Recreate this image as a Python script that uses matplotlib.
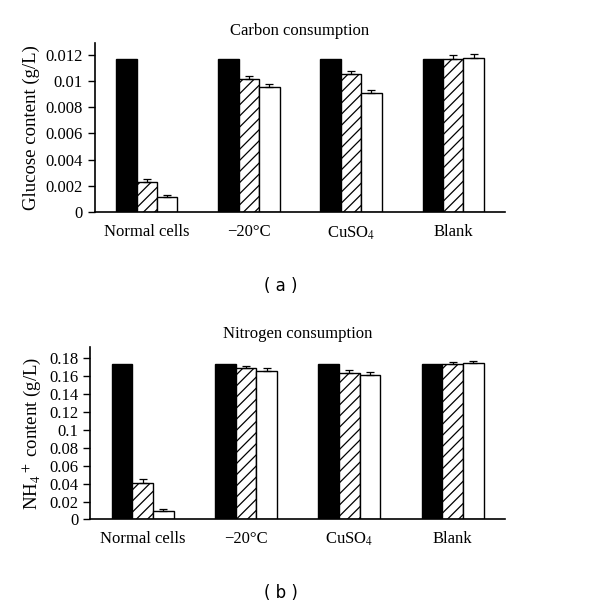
import matplotlib
matplotlib.use("Agg")
import matplotlib.pyplot as plt
import numpy as np

plt.rcParams['font.family'] = ['Liberation Serif', 'DejaVu Serif']
plt.rcParams['mathtext.fontset'] = 'stix'
plt.rcParams['hatch.linewidth'] = 0.9

groups = ["Normal cells", "\u221220\u00b0C", "CuSO$_4$", "Blank"]

# carbon (glucose, g/L): initial, hatched, white
glu_black = [0.0117, 0.0117, 0.0117, 0.0117]
glu_hatch = [0.00232, 0.01019, 0.01055, 0.01167]
glu_hatch_err = [0.00018, 0.00023, 0.00025, 0.00033]
glu_white = [0.00117, 0.00958, 0.0091, 0.01175]
glu_white_err = [0.00011, 0.00018, 0.0002, 0.0003]
glu_ticks = [0, 0.002, 0.004, 0.006, 0.008, 0.01, 0.012]
glu_ticklabels = ["0", "0.002", "0.004", "0.006", "0.008", "0.01", "0.012"]

# nitrogen (NH4+, g/L)
nh_black = [0.173, 0.173, 0.173, 0.173]
nh_hatch = [0.0402, 0.1692, 0.1629, 0.1726]
nh_hatch_err = [0.0048, 0.0018, 0.0033, 0.0033]
nh_white = [0.0093, 0.1658, 0.1614, 0.1741]
nh_white_err = [0.0025, 0.0031, 0.003, 0.0026]
nh_ticks = [0, 0.02, 0.04, 0.06, 0.08, 0.1, 0.12, 0.14, 0.16, 0.18]
nh_ticklabels = ["0", "0.02", "0.04", "0.06", "0.08", "0.1", "0.12", "0.14", "0.16", "0.18"]


def draw(ax, black, hatch, hatch_err, white, white_err, ticks, ticklabels, ymax, title, ylabel, xpad):
    x = np.arange(len(groups))
    w = 0.2
    ax.bar(x - w, black, w, color='black', edgecolor='black', linewidth=1)
    ax.bar(x, hatch, w, color='white', edgecolor='black', linewidth=1, hatch='///',
           yerr=[np.zeros(len(hatch)), hatch_err], capsize=3,
           error_kw=dict(elinewidth=0.9, capthick=0.9, ecolor='black'))
    ax.bar(x + w, white, w, color='white', edgecolor='black', linewidth=1,
           yerr=[np.zeros(len(white)), white_err], capsize=3,
           error_kw=dict(elinewidth=0.9, capthick=0.9, ecolor='black'))
    ax.set_xlim(-0.51, 3.51)
    ax.set_ylim(0, ymax)
    ax.set_xticks(x)
    ax.set_xticklabels(groups, fontsize=12)
    ax.tick_params(axis='x', length=0, pad=xpad)
    ax.set_yticks(ticks)
    ax.set_yticklabels(ticklabels, fontsize=12)
    ax.tick_params(axis='y', direction='out', length=5, width=1)
    for s in ['top', 'right']:
        ax.spines[s].set_visible(False)
    for s in ['left', 'bottom']:
        ax.spines[s].set_linewidth(1.2)
    ax.set_title(title, fontsize=12, pad=6)
    ax.set_ylabel(ylabel, fontsize=13.5, labelpad=4)


fig = plt.figure(figsize=(6, 6.09), dpi=100)
ax1 = fig.add_axes([0.158, 0.652, 0.684, 0.277])
draw(ax1, glu_black, glu_hatch, glu_hatch_err, glu_white, glu_white_err,
     glu_ticks, glu_ticklabels, 0.0129, "Carbon consumption", "Glucose content (g/L)", 9)
ax2 = fig.add_axes([0.15, 0.147, 0.692, 0.284])
draw(ax2, nh_black, nh_hatch, nh_hatch_err, nh_white, nh_white_err,
     nh_ticks, nh_ticklabels, 0.1926, "Nitrogen consumption", "NH$_4$$^+$ content (g/L)", 8)

fig.text(0.468, 1 - 286 / 609, "( a )", ha='center', va='center', fontsize=12, family='DejaVu Sans')
fig.text(0.468, 1 - 593 / 609, "( b )", ha='center', va='center', fontsize=12, family='DejaVu Sans')

fig.savefig("out.png", dpi=100)
